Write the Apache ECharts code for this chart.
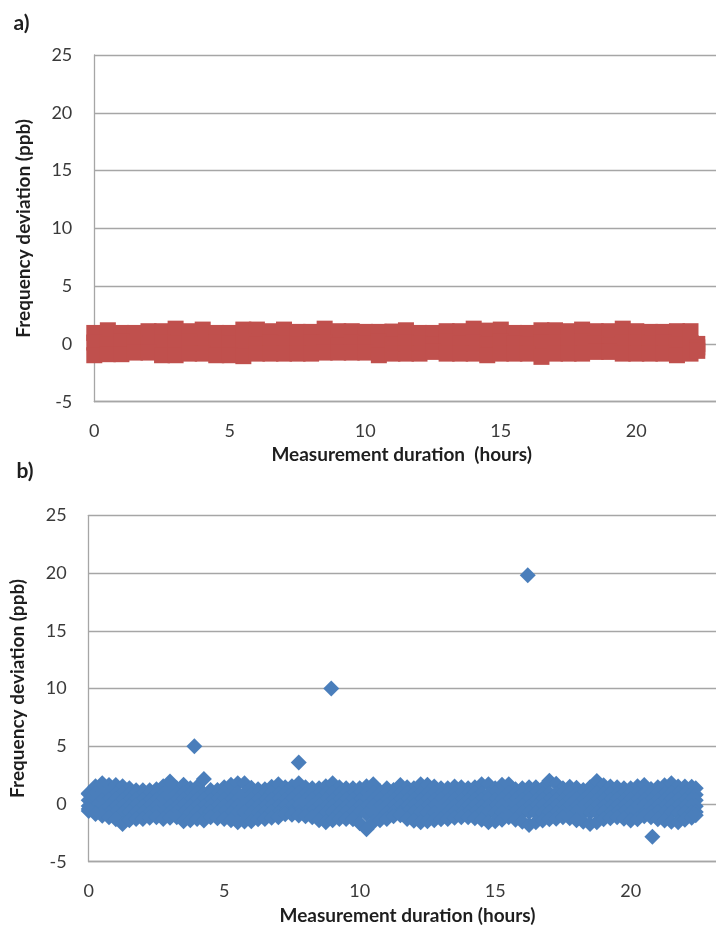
<!DOCTYPE html>
<html>
<head>
<meta charset="utf-8">
<script src="https://cdn.jsdelivr.net/npm/echarts@6/dist/echarts.min.js"></script>
<style>
html,body{margin:0;padding:0;background:#fff;}
#c{width:716px;height:928px;}
</style>
</head>
<body>
<div id="c"></div>
<script>
// ---------- axis ticks ----------
const xTicks = [0, 5, 10, 15, 20, 25];
const yTicks = [-5, 0, 5, 10, 15, 20, 25];

// ---------- panel a) : sampling grid (hours) ----------
const timesA = Array.from({length: 45}, (_, i) => i * 0.5).concat([22.25]);
// upper edge of the dense band (ppb)
const aTop = [0.95,1.18,0.95,0.95,1.10,1.10,1.32,1.10,1.24,0.95,
              0.95,1.24,1.24,1.10,1.24,1.04,1.04,1.32,1.10,1.10,
              1.04,1.04,1.07,1.18,0.95,0.95,1.10,1.10,1.32,1.15,
              1.24,0.95,0.95,1.18,1.18,1.10,1.24,1.10,1.10,1.32,
              1.10,1.04,1.04,1.10,1.10,0.00];
// core of the band (ppb)
const aMid = [0.12,-0.05,0.20,0.08,-0.10,0.15,0.02,0.18,-0.06,0.10,
              0.04,0.22,-0.08,0.14,0.06,-0.02,0.16,0.09,-0.12,0.11,
              0.03,0.19,-0.04,0.13,0.07,-0.09,0.17,0.01,0.12,-0.03,
              0.21,0.05,-0.07,0.14,0.10,-0.01,0.18,0.06,-0.11,0.09,
              0.15,0.02,0.13,-0.05,0.08,-0.30];
// lower edge of the band (ppb)
const aBottom = [-0.98,-0.89,-0.89,-0.75,-0.75,-0.98,-0.98,-0.84,-0.84,-0.98,
                 -0.98,-1.06,-0.84,-0.84,-0.84,-0.84,-0.84,-0.75,-0.75,-0.75,
                 -0.75,-0.98,-0.84,-0.84,-0.84,-0.69,-0.84,-0.84,-0.84,-0.98,
                 -0.84,-0.84,-0.84,-1.12,-0.84,-0.84,-0.84,-0.69,-0.69,-0.84,
                 -0.84,-0.84,-0.84,-0.98,-0.84,-0.60];

// ---------- panel b) : sampling grid (hours) ----------
const timesB = Array.from({length: 90}, (_, i) => i * 0.25).concat([22.4]);
const bTop = [0.93,1.53,1.79,1.65,1.65,1.53,1.36,1.19,1.19,1.19,
              1.27,1.53,1.94,1.36,1.66,1.36,1.50,2.16,1.21,1.21,
              1.45,1.66,1.79,1.79,1.40,1.27,1.27,1.49,1.71,1.45,
              1.53,1.79,1.45,1.36,1.36,1.53,1.79,1.45,1.36,1.36,
              1.36,1.53,1.71,1.10,1.36,1.21,1.65,1.45,1.36,1.71,
              1.66,1.51,1.36,1.36,1.51,1.45,1.36,1.45,1.71,1.71,
              1.36,1.66,1.71,1.27,1.36,1.45,1.45,1.36,2.00,1.75,
              1.36,1.49,1.40,1.21,1.45,1.99,1.62,1.51,1.45,1.36,
              1.36,1.53,1.65,1.30,1.45,1.62,1.79,1.51,1.51,1.49,
              1.36];
const bCore1 = [0.86,0.92,0.88,0.95,0.85,0.91,0.89,0.94,0.87,0.93,
                0.90,0.84,0.96,0.88,0.92,0.86,0.94,0.89,0.91,0.85,
                0.93,0.87,0.95,0.90,0.84,0.92,0.88,0.96,0.86,0.91,
                0.89,0.94,0.85,0.93,0.87,0.90,0.95,0.88,0.92,0.84,
                0.91,0.86,0.94,0.89,0.93,0.85,0.90,0.96,0.87,0.92,
                0.88,0.95,0.84,0.91,0.89,0.93,0.86,0.94,0.90,0.85,
                0.92,0.87,0.96,0.88,0.91,0.84,0.93,0.89,0.95,0.86,
                0.90,0.94,0.85,0.92,0.88,0.96,0.87,0.91,0.84,0.93,
                0.89,0.86,0.95,0.90,0.92,0.85,0.94,0.88,0.91,0.87,
                0.80];
const bCore2 = [0.32,0.38,0.30,0.36,0.41,0.33,0.29,0.39,0.35,0.31,
                0.37,0.40,0.34,0.30,0.38,0.33,0.36,0.41,0.29,0.35,
                0.39,0.32,0.37,0.30,0.40,0.34,0.31,0.38,0.36,0.33,
                0.41,0.29,0.35,0.39,0.32,0.37,0.30,0.34,0.40,0.36,
                0.31,0.38,0.33,0.41,0.29,0.35,0.37,0.32,0.39,0.30,
                0.36,0.34,0.40,0.31,0.38,0.33,0.29,0.37,0.35,0.41,
                0.32,0.39,0.30,0.36,0.34,0.40,0.31,0.38,0.33,0.35,
                0.29,0.37,0.41,0.32,0.39,0.30,0.36,0.34,0.38,0.31,
                0.40,0.33,0.35,0.29,0.37,0.32,0.39,0.36,0.30,0.34,
                0.33];
const bCore3 = [-0.18,-0.24,-0.15,-0.21,-0.26,-0.17,-0.22,-0.14,-0.25,-0.19,
                -0.23,-0.16,-0.20,-0.26,-0.13,-0.21,-0.18,-0.24,-0.15,-0.22,
                -0.19,-0.25,-0.17,-0.14,-0.23,-0.20,-0.26,-0.16,-0.21,-0.18,
                -0.24,-0.15,-0.22,-0.19,-0.13,-0.25,-0.17,-0.23,-0.20,-0.16,
                -0.21,-0.26,-0.18,-0.24,-0.14,-0.22,-0.19,-0.25,-0.15,-0.20,
                -0.23,-0.17,-0.26,-0.21,-0.16,-0.24,-0.18,-0.13,-0.22,-0.19,
                -0.25,-0.15,-0.20,-0.23,-0.17,-0.26,-0.21,-0.14,-0.24,-0.18,
                -0.22,-0.16,-0.25,-0.19,-0.23,-0.15,-0.21,-0.26,-0.17,-0.20,
                -0.24,-0.18,-0.14,-0.22,-0.19,-0.25,-0.16,-0.21,-0.23,-0.17,
                -0.20];
const bCore4 = [-0.60,-0.78,-0.72,-0.80,-0.74,-0.81,-0.70,-0.76,-0.73,-0.79,
                -0.71,-0.77,-0.74,-0.69,-0.80,-0.75,-0.72,-0.78,-0.70,-0.76,
                -0.73,-0.81,-0.75,-0.71,-0.79,-0.74,-0.77,-0.70,-0.80,-0.72,
                -0.76,-0.73,-0.78,-0.69,-0.75,-0.81,-0.71,-0.77,-0.74,-0.79,
                -0.72,-0.86,-0.76,-0.70,-0.78,-0.73,-0.80,-0.75,-0.71,-0.77,
                -0.74,-0.79,-0.70,-0.76,-0.72,-0.81,-0.75,-0.73,-0.78,-0.71,
                -0.77,-0.74,-0.80,-0.69,-0.76,-0.72,-0.79,-0.75,-0.71,-0.78,
                -0.73,-0.81,-0.70,-0.77,-0.74,-0.76,-0.72,-0.79,-0.75,-0.71,
                -0.78,-0.73,-0.80,-0.76,-0.70,-0.77,-0.74,-0.79,-0.72,-0.75,
                -0.70];
const bBottom = [-0.43,-0.87,-1.02,-1.15,-1.33,-1.73,-1.41,-1.30,-1.30,-1.20,
                 -1.15,-1.30,-1.20,-1.15,-1.50,-1.41,-1.30,-1.44,-1.15,-1.24,
                 -1.30,-1.41,-1.58,-1.52,-1.50,-1.33,-1.30,-1.20,-1.15,-0.89,
                 -0.94,-1.00,-1.07,-1.15,-1.41,-1.58,-1.41,-1.30,-1.30,-1.33,
                 -1.67,-2.20,-1.58,-1.41,-1.30,-1.07,-0.98,-1.30,-1.45,-1.58,
                 -1.50,-1.41,-1.33,-1.30,-1.20,-1.15,-1.15,-1.24,-1.37,-1.58,
                 -1.50,-1.37,-1.15,-1.37,-1.54,-1.82,-1.58,-1.44,-1.33,-1.28,
                 -1.15,-1.24,-1.41,-1.54,-1.73,-1.58,-1.33,-1.24,-1.15,-1.28,
                 -1.44,-1.33,-1.07,-1.15,-1.33,-1.44,-1.54,-1.58,-1.37,-1.20,
                 -0.98];
// isolated outliers of panel b)
const outlierTimesB  = [3.9, 7.75, 8.95, 16.2, 20.8];
const outlierValuesB = [5.0, 3.6, 10.0, 19.8, -2.85];

// ---------- build series data ----------
function rowsToPoints(times, rows) {
  const pts = [];
  rows.forEach(row => row.forEach((v, i) => pts.push([times[i], v])));
  return pts;
}
const dataA = rowsToPoints(timesA, [aTop, aMid, aBottom]);
const dataB = rowsToPoints(timesB, [bTop, bCore1, bCore2, bCore3, bCore4, bBottom])
  .concat(outlierTimesB.map((t, i) => [t, outlierValuesB[i]]));

const FONT = 'Lato, "Open Sans", sans-serif';
const gridColor = '#A6A6A6';
const labelColor = '#3a3a3a';
const titleColor = '#1e1e1e';

function xAxisFor(gi) {
  return {
    type: 'value', gridIndex: gi,
    min: xTicks[0], max: xTicks[xTicks.length - 1], interval: 5,
    axisLine: {show: true, onZero: false, lineStyle: {color: gridColor, width: 1.3}},
    axisTick: {show: false},
    splitLine: {show: false},
    axisLabel: {fontSize: 18, fontFamily: FONT, color: labelColor, margin: 20}
  };
}
function yAxisFor(gi) {
  return {
    type: 'value', gridIndex: gi,
    min: yTicks[0], max: yTicks[yTicks.length - 1], interval: 5,
    axisLine: {show: true, onZero: false, lineStyle: {color: gridColor, width: 1.3}},
    axisTick: {show: false},
    splitLine: {show: true, lineStyle: {color: gridColor, width: 1.3}},
    axisLabel: {fontSize: 18, fontFamily: FONT, color: labelColor, margin: 22},
    name: 'Frequency deviation (ppb)',
    nameLocation: 'middle', nameGap: 61,
    nameTextStyle: {fontSize: 19, fontWeight: 'bold', fontFamily: FONT, color: titleColor}
  };
}
function txt(text, x, y, size) {
  return {
    type: 'text', x: x, y: y, silent: true,
    style: {
      text: text, fill: titleColor,
      font: 'bold ' + size + 'px ' + FONT,
      align: 'center', verticalAlign: 'middle',
      textAlign: 'center', textVerticalAlign: 'middle'
    }
  };
}

const chart = echarts.init(document.getElementById('c'), null, {renderer: 'canvas'});
chart.setOption({
  animation: false,
  backgroundColor: '#ffffff',
  grid: [
    {left: 94.3, top: 55, width: 677.5, height: 346.7, containLabel: false, outerBoundsMode: 'none'},
    {left: 88.7, top: 515.3, width: 677.5, height: 346.4, containLabel: false, outerBoundsMode: 'none'}
  ],
  xAxis: [xAxisFor(0), xAxisFor(1)],
  yAxis: [yAxisFor(0), yAxisFor(1)],
  series: [
    {
      type: 'scatter', xAxisIndex: 0, yAxisIndex: 0,
      symbol: 'rect', symbolSize: 16, clip: false,
      itemStyle: {color: '#C0504D', opacity: 1},
      data: dataA
    },
    {
      type: 'scatter', xAxisIndex: 1, yAxisIndex: 1,
      symbol: 'diamond', symbolSize: 16, clip: false,
      itemStyle: {color: '#4A7EBB', opacity: 1},
      data: dataB
    }
  ],
  graphic: [
    txt('a)', 21.5, 23, 21),
    txt('b)', 25, 471, 21),
    txt('Measurement duration  (hours)', 401.7, 455, 19),
    txt('Measurement duration (hours)', 407.5, 916.3, 19)
  ]
});
</script>
</body>
</html>
